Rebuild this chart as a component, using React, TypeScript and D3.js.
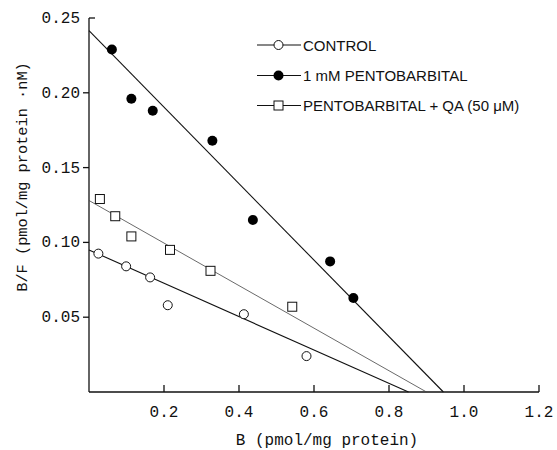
import * as d3 from "d3";
import React from "react";

const width = 557;
const height = 450;
const margin = { top: 18, right: 18, bottom: 58, left: 89 };

// Scatchard data
const controlB = [0.025, 0.099, 0.163, 0.21, 0.413, 0.58];
const controlBF = [0.0925, 0.084, 0.0766, 0.058, 0.052, 0.024];
const pentoB = [0.061, 0.113, 0.17, 0.329, 0.437, 0.643, 0.705];
const pentoBF = [0.229, 0.196, 0.188, 0.168, 0.115, 0.0873, 0.0628];
const qaB = [0.029, 0.07, 0.113, 0.216, 0.324, 0.542];
const qaBF = [0.129, 0.1175, 0.104, 0.095, 0.081, 0.057];

// regression lines: [y intercept, x intercept]
const controlFit = [0.095, 0.852];
const pentoFit = [0.2415, 0.945];
const qaFit = [0.128, 0.9];

const xTicks = [0.2, 0.4, 0.6, 0.8, 1.0, 1.2];
const yTicks = [0.05, 0.1, 0.15, 0.2, 0.25];

const legendLabels = [
  "CONTROL",
  "1 mM PENTOBARBITAL",
  "PENTOBARBITAL + QA (50 \u03bcM)",
];

const mono = "'Liberation Mono', 'DejaVu Sans Mono', monospace";
const sans = "'Liberation Sans', Arial, sans-serif";

const x = d3.scaleLinear().domain([0, 1.2]).range([margin.left, width - margin.right]);
const y = d3.scaleLinear().domain([0, 0.25]).range([height - margin.bottom, margin.top]);

const zip = (a: number[], b: number[]) => a.map((v, i) => [v, b[i]]);

const Marker = ({ kind, cx, cy }: { kind: string; cx: number; cy: number }) => {
  if (kind === "filled") return <circle cx={cx} cy={cy} r={5} fill="#000" />;
  if (kind === "open")
    return <circle cx={cx} cy={cy} r={4.5} fill="#fff" stroke="#111" strokeWidth={1} />;
  return (
    <rect x={cx - 4.5} y={cy - 4.5} width={9} height={9} fill="#fff" stroke="#111" strokeWidth={1} />
  );
};

const App = () => {
  const line = d3
    .line<number[]>()
    .x((d) => x(d[0]))
    .y((d) => y(d[1]));

  const fits = [
    { fit: controlFit, w: 1.1, c: "#111" },
    { fit: qaFit, w: 0.8, c: "#444" },
    { fit: pentoFit, w: 1.1, c: "#111" },
  ];

  const series = [
    { kind: "open", pts: zip(controlB, controlBF) },
    { kind: "filled", pts: zip(pentoB, pentoBF) },
    { kind: "square", pts: zip(qaB, qaBF) },
  ];

  const legendY = [45, 75.5, 105.5];
  const legendKinds = ["open", "filled", "square"];

  const y0 = y(0);
  const x0 = x(0);

  return (
    <svg
      width={width}
      height={height}
      style={{ position: "absolute", left: 0, top: 0, background: "#fff" }}
    >
      {/* axes */}
      <g stroke="#111" strokeWidth={1.3} fill="none">
        <line x1={x0} x2={x(1.2)} y1={y0} y2={y0} />
        <line x1={x0} x2={x0} y1={y0} y2={y(0.25)} />
        <line x1={x0} x2={x0 + 6} y1={y(0.25)} y2={y(0.25)} />
        {xTicks.map((t) => (
          <line key={t} x1={x(t)} x2={x(t)} y1={y0} y2={y0 - 7} />
        ))}
        {yTicks.slice(0, -1).map((t) => (
          <line key={t} x1={x0 - 6} x2={x0} y1={y(t)} y2={y(t)} />
        ))}
      </g>
      <g fontFamily={mono} fontSize={16} fill="#111">
        {xTicks.map((t) => (
          <text key={t} x={x(t)} y={y0 + 25} textAnchor="middle">
            {t.toFixed(1)}
          </text>
        ))}
        {yTicks.map((t) => (
          <text key={t} x={x0 - 9} y={y(t) + 5} textAnchor="end">
            {t.toFixed(2)}
          </text>
        ))}
        <text x={327} y={445} textAnchor="middle">
          B (pmol/mg protein)
        </text>
        <text
          transform="translate(27,177) rotate(-90)"
          textAnchor="middle"
          fontSize={15.3}
        >
          B/F (pmol/mg protein {"\u00b7"}nM)
        </text>
      </g>

      {/* fitted lines */}
      {fits.map((f, i) => (
        <path
          key={i}
          d={line([
            [0, f.fit[0]],
            [f.fit[1], 0],
          ]) ?? ""}
          stroke={f.c}
          strokeWidth={f.w}
          fill="none"
        />
      ))}

      {/* points */}
      {series.map((s) =>
        s.pts.map((p, i) => (
          <Marker key={s.kind + i} kind={s.kind} cx={x(p[0])} cy={y(p[1])} />
        ))
      )}

      {/* legend */}
      <g>
        {legendLabels.map((lab, i) => (
          <g key={lab}>
            <line
              x1={257}
              x2={301}
              y1={legendY[i]}
              y2={legendY[i]}
              stroke="#111"
              strokeWidth={1.2}
            />
            <Marker kind={legendKinds[i]} cx={278.5} cy={legendY[i]} />
            <text
              x={303}
              y={legendY[i] + 5.5}
              fontFamily={sans}
              fontSize={15}
              fill="#111"
            >
              {lab}
            </text>
          </g>
        ))}
      </g>
    </svg>
  );
};

export default App;
